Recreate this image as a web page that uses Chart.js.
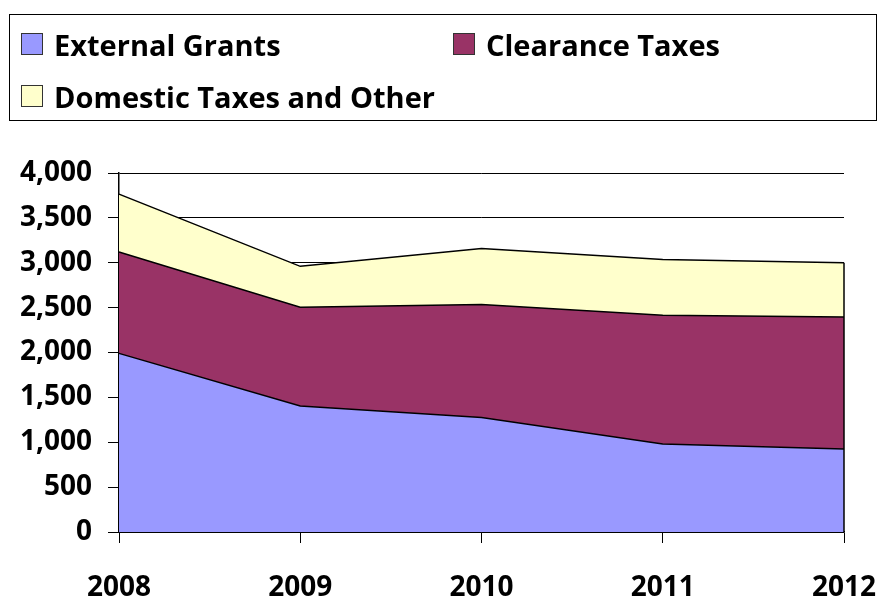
<!DOCTYPE html>
<html>
<head>
<meta charset="utf-8">
<script src="https://cdn.jsdelivr.net/npm/chart.js@4"></script>
<style>
    html, body { margin: 0; padding: 0; background: #fff; }
    #wrap { position: relative; width: 880px; height: 599px; }
    #revenueChart { position: absolute; left: 0; top: 0; }
    #legend {
        position: absolute; left: 9px; top: 14px; width: 868px; height: 107px;
        border: 1.5px solid #000; box-sizing: border-box;
        font-family: "Open Sans", sans-serif; font-weight: bold; font-size: 29px; color: #000;
    }
    .item { position: absolute; display: flex; align-items: center; height: 24px; }
    .swatch { width: 22px; height: 22px; box-sizing: border-box; border: 1.5px solid #333; margin-right: 11px; }
</style>
</head>
<body>
<div id="wrap">
    <canvas id="revenueChart" width="880" height="599"></canvas>
    <div id="legend"></div>
</div>
<script>
const years = ['2008', '2009', '2010', '2011', '2012'];
const seriesNames = ['External Grants', 'Clearance Taxes', 'Domestic Taxes and Other'];
const seriesColors = ['#9999ff', '#993366', '#ffffcc'];

// stacked layers, bottom to top
const externalGrants = [1990, 1405, 1275, 980, 925];
const clearanceTaxes = [1130, 1100, 1260, 1435, 1470];
const domesticTaxes = [645, 455, 625, 620, 605];

const yTicks = [0, 500, 1000, 1500, 2000, 2500, 3000, 3500, 4000];

const labelFont = { family: 'Open Sans', weight: 'bold', size: 28 };

// closes the right edge of the stacked areas with a vertical stroke
const edgeLine = {
    id: 'edgeLine',
    afterDatasetsDraw(chart) {
        const metas = chart.getSortedVisibleDatasetMetas();
        const top = metas[metas.length - 1];
        const last = top.data[top.data.length - 1];
        const ctx = chart.ctx;
        ctx.save();
        ctx.strokeStyle = '#000';
        ctx.lineWidth = 1.5;
        ctx.beginPath();
        ctx.moveTo(last.x, last.y);
        ctx.lineTo(last.x, chart.scales.y.getPixelForValue(0));
        ctx.stroke();
        ctx.restore();
    }
};

const layers = [externalGrants, clearanceTaxes, domesticTaxes];

const chart = new Chart(document.getElementById('revenueChart'), {
    type: 'line',
    data: {
        labels: years,
        datasets: layers.map((vals, i) => ({
            label: seriesNames[i],
            data: vals,
            backgroundColor: seriesColors[i],
            borderColor: '#000',
            borderWidth: 1.5,
            pointRadius: 0,
            tension: 0,
            fill: i === 0 ? 'origin' : '-1'
        }))
    },
    options: {
        responsive: false,
        animation: false,
        layout: { padding: { left: 0, right: 36, top: 173, bottom: 0 } },
        plugins: {
            legend: { display: false },
            tooltip: { enabled: false }
        },
        scales: {
            x: {
                offset: false,
                grid: { drawOnChartArea: false, color: '#000', lineWidth: 1, tickLength: 11 },
                border: { color: '#000', width: 1.5 },
                ticks: { color: '#000', font: labelFont, padding: 28, maxRotation: 0 },
                afterFit: s => { s.height = 67; s.paddingLeft = 0; s.paddingRight = 0; }
            },
            y: {
                stacked: true,
                min: 0,
                max: 4000,
                afterBuildTicks: s => { s.ticks = yTicks.map(v => ({ value: v })); },
                grid: { color: '#000', lineWidth: 1, tickLength: 11 },
                border: { color: '#000', width: 1.5 },
                ticks: {
                    color: '#000', font: labelFont, padding: 16,
                    callback: v => v.toLocaleString('en-US')
                },
                afterFit: s => { s.width = 119; s.paddingTop = 0; s.paddingBottom = 0; }
            }
        }
    },
    plugins: [edgeLine]
});

// legend box: two columns, two rows
const legendPos = [[11, 17], [443, 17], [11, 69]];
const legendEl = document.getElementById('legend');
chart.data.datasets.forEach((ds, i) => {
    const item = document.createElement('div');
    item.className = 'item';
    item.style.left = legendPos[i][0] + 'px';
    item.style.top = legendPos[i][1] + 'px';
    const sw = document.createElement('span');
    sw.className = 'swatch';
    sw.style.background = ds.backgroundColor;
    const txt = document.createElement('span');
    txt.textContent = ds.label;
    item.appendChild(sw);
    item.appendChild(txt);
    legendEl.appendChild(item);
});
</script>
</body>
</html>
